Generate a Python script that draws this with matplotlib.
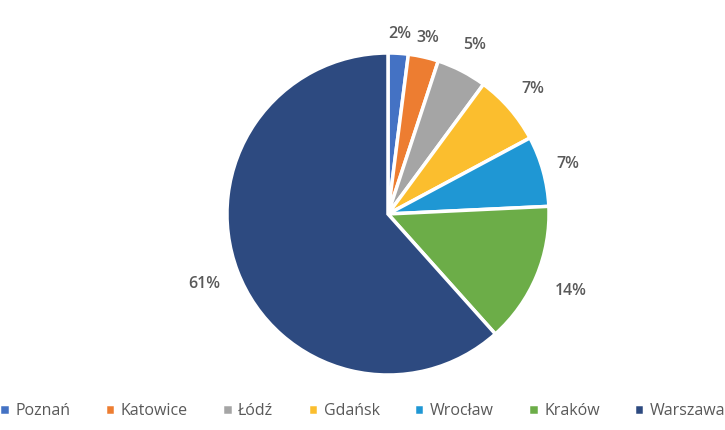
import matplotlib.pyplot as plt
import numpy as np

cities = ["Poznań", "Katowice", "Łódź", "Gdańsk", "Wrocław", "Kraków", "Warszawa"]
shares = [2, 3, 5, 7, 7, 14, 61]
labels = ["2%", "3%", "5%", "7%", "7%", "14%", "61%"]

colors = ["#4472C4", "#ED7D31", "#A5A5A5", "#FBBE2E", "#1F97D4", "#6CAD48", "#2D4A80"]
label_dist = [1.12, 1.12, 1.18, 1.19, 1.16, 1.23, 1.22]

plt.rcParams['font.family'] = ['Open Sans', 'DejaVu Sans']

fig = plt.figure(figsize=(7.25, 4.3), dpi=100)
ax = fig.add_axes([0, 0, 1, 1])

cx, cy, r = 388, 216, 161
wedges, _ = ax.pie(shares, startangle=90, counterclock=False, colors=colors,
                   center=(cx, cy), radius=r, explode=[0.015] * len(shares),
                   wedgeprops=dict(edgecolor="white", linewidth=2.5))

for w, lab, d in zip(wedges, labels, label_dist):
    ang = np.deg2rad((w.theta1 + w.theta2) / 2)
    ax.text(cx + d * r * np.cos(ang), cy + d * r * np.sin(ang), lab,
            ha="center", va="center", fontsize=11.5, fontweight="semibold", color="#595959")

ax.set_xlim(0, 725)
ax.set_ylim(0, 430)
ax.set_aspect("equal")
ax.axis("off")

fig.legend(wedges, cities, loc="center", bbox_to_anchor=(0.5, 19 / 430), ncol=7,
           frameon=False, fontsize=11.5, handlelength=0.65, handleheight=0.65,
           handletextpad=0.35, columnspacing=2.15, labelcolor="#595959")

fig.savefig("out.png", dpi=100)
